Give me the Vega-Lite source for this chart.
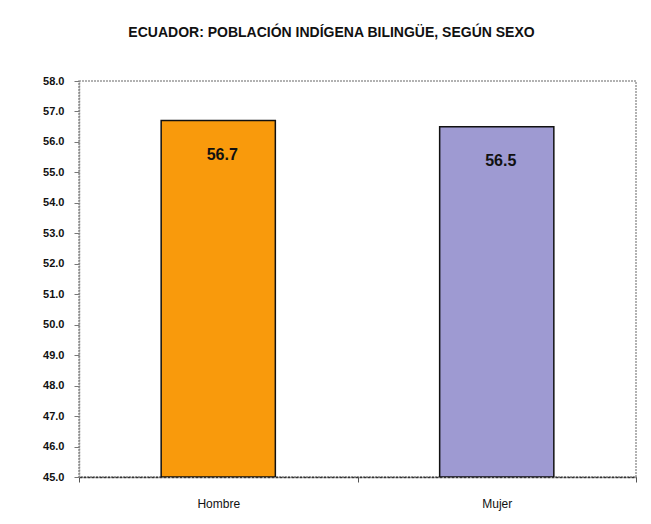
{
  "$schema": "https://vega.github.io/schema/vega-lite/v6.json",
  "autosize": {"type": "none"},
  "width": 557,
  "height": 396,
  "padding": {"left": 79, "top": 81, "right": 15, "bottom": 47},
  "background": "white",
  "title": {
    "text": "ECUADOR: POBLACIÓN INDÍGENA BILINGÜE, SEGÚN SEXO",
    "font": "Liberation Sans",
    "fontSize": 14,
    "fontWeight": "bold",
    "color": "#111111",
    "anchor": "middle",
    "frame": "group",
    "offset": 35,
    "dx": -26
  },
  "data": {
    "values": [
      {"sexo": "Hombre", "porcentaje": 56.7},
      {"sexo": "Mujer", "porcentaje": 56.5}
    ]
  },
  "encoding": {
    "x": {
      "field": "sexo",
      "type": "nominal",
      "sort": null,
      "scale": {"paddingInner": 0, "paddingOuter": 0},
      "axis": {
        "title": null,
        "labelAngle": 0,
        "labelFont": "Liberation Sans",
        "labelFontSize": 12,
        "labelColor": "#111111",
        "labelPadding": 16,
        "tickBand": "extent",
        "tickSize": 5,
        "tickColor": "#555555",
        "domainColor": "#333333",
        "domainDash": [3, 1],
        "domainWidth": 1.5
      }
    },
    "y": {
      "field": "porcentaje",
      "type": "quantitative",
      "scale": {"domain": [45, 58], "nice": false, "zero": false},
      "axis": {
        "title": null,
        "values": [45, 46, 47, 48, 49, 50, 51, 52, 53, 54, 55, 56, 57, 58],
        "format": ".1f",
        "grid": false,
        "labelFont": "Liberation Sans",
        "labelFontSize": 11,
        "labelFontWeight": "bold",
        "labelColor": "#111111",
        "labelPadding": 10,
        "tickSize": 5,
        "tickColor": "#777777",
        "domainColor": "#888888",
        "domainDash": [2, 1],
        "domainWidth": 1.5
      }
    }
  },
  "layer": [
    {
      "mark": {"type": "bar", "clip": true, "width": {"band": 0.41}, "stroke": "#111111", "strokeWidth": 1.5},
      "encoding": {
        "y2": {"datum": 45},
        "color": {
          "field": "sexo",
          "type": "nominal",
          "scale": {"domain": ["Hombre", "Mujer"], "range": ["#F99A0C", "#9E9AD2"]},
          "legend": null
        }
      }
    },
    {
      "mark": {
        "type": "text",
        "baseline": "middle",
        "align": "center",
        "dy": 34,
        "dx": 4,
        "font": "Liberation Sans",
        "fontSize": 16,
        "fontWeight": "bold",
        "color": "#111111"
      },
      "encoding": {
        "text": {"field": "porcentaje", "type": "quantitative", "format": ".1f"}
      }
    }
  ],
  "config": {
    "view": {"stroke": "#999999", "strokeDash": [2, 1], "strokeWidth": 1.5}
  }
}
